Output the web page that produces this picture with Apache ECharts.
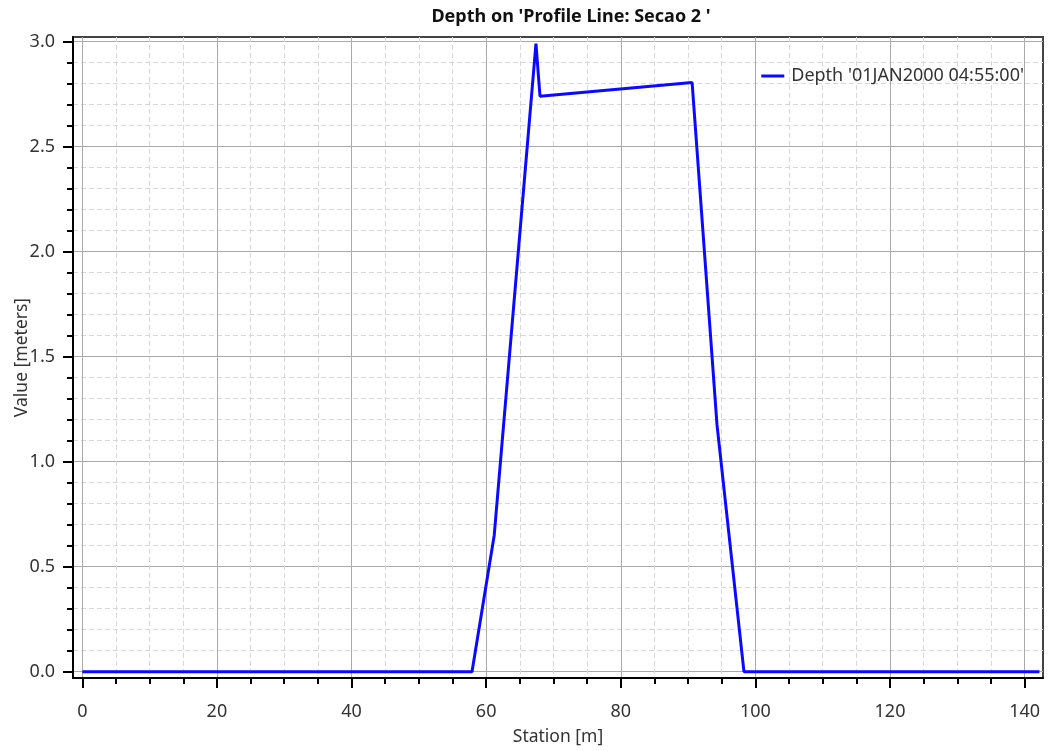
<!DOCTYPE html>
<html>
<head>
<meta charset="utf-8">
<script src="https://cdn.jsdelivr.net/npm/echarts@6/dist/echarts.min.js"></script>
<style>
html,body{margin:0;padding:0;background:#fff;}
#chart{width:1051px;height:751px;}
</style>
</head>
<body>
<div id="chart"></div>
<script>
// ---- data ----
const stations = [0, 57.9, 61.2, 67.4, 68.0, 90.6, 94.3, 98.3, 142.2];
const depths   = [0, 0, 0.65, 2.99, 2.74, 2.805, 1.175, 0, 0];
const seriesName = "Depth '01JAN2000 04:55:00'";
const titleText = "Depth on 'Profile Line: Secao 2 '";
const xMajorTicks = [0, 20, 40, 60, 80, 100, 120, 140];
const yMajorTicks = [0, 0.5, 1.0, 1.5, 2.0, 2.5, 3.0];
const xMinorStep = 5;
const yMinorStep = 0.1;

const xMin = -1.38, xMax = 142.73;
const yMin = -0.03, yMax = 3.022;

function minorList(majors, step, lo, hi) {
  const out = [];
  const n = Math.round((majors[majors.length - 1] - majors[0]) / step);
  for (let i = 0; i <= n; i++) {
    const v = +(majors[0] + i * step).toFixed(6);
    if (majors.some(m => Math.abs(m - v) < 1e-9)) continue;
    if (v > lo && v < hi) out.push(v);
  }
  return out;
}
const xMinorTicks = minorList(xMajorTicks, xMinorStep, xMin, xMax);
const yMinorTicks = minorList(yMajorTicks, yMinorStep, yMin, yMax);

const FONT = "Noto Sans";
const TXT = '#333333';

const chart = echarts.init(document.getElementById('chart'), null, {renderer: 'canvas'});
chart.setOption({
  animation: false,
  backgroundColor: '#ffffff',
  title: {
    text: titleText,
    left: 566, top: 3, textAlign: 'center',
    textStyle: {fontFamily: FONT, fontSize: 18, fontWeight: 'bold', color: '#111'}
  },
  legend: {
    right: 22, top: 62,
    icon: 'rect', itemWidth: 23, itemHeight: 3,
    textStyle: {fontFamily: FONT, fontSize: 18, color: TXT, padding: [0,0,0,2]},
    data: [seriesName]
  },
  grid: {
    left: 73, right: 8, top: 37, bottom: 73,
    show: true, borderColor: '#444', borderWidth: 2, backgroundColor: '#fff',
    containLabel: false,
    outerBoundsMode: 'none'
  },
  xAxis: [
    {
      type: 'value', min: xMin, max: xMax, position: 'bottom',
      name: 'Station [m]', nameLocation: 'middle', nameGap: 50, nameMoveOverlap: false,
      nameTextStyle: {fontFamily: FONT, fontSize: 17.5, color: TXT},
      splitNumber: 7,
      axisLine: {show: true, onZero: false, lineStyle: {color: '#000', width: 2}},
      axisTick: {show: true, length: 10, customValues: xMajorTicks, lineStyle: {color: '#000', width: 2}},
      axisLabel: {show: true, customValues: xMajorTicks, margin: 25, fontFamily: FONT, fontSize: 18, color: TXT},
      splitLine: {show: true, lineStyle: {color: '#aaaaaa', width: 1, type: 'solid'}},
      minorTick: {show: false}, minorSplitLine: {show: false}
    },
    {
      type: 'value', min: xMin, max: xMax, position: 'bottom', offset: 0,
      splitNumber: 29,
      axisLine: {show: false, onZero: false},
      axisTick: {show: true, length: 6, customValues: xMinorTicks, lineStyle: {color: '#000', width: 2}},
      axisLabel: {show: false},
      splitLine: {show: true, lineStyle: {color: '#d8d8d8', width: 1, type: [5, 3]}}
    }
  ],
  yAxis: [
    {
      type: 'value', min: yMin, max: yMax, position: 'left',
      name: 'Value [meters]', nameLocation: 'middle', nameGap: 42, nameRotate: 90, nameMoveOverlap: false,
      nameTextStyle: {fontFamily: FONT, fontSize: 17.5, color: TXT},
      splitNumber: 6,
      axisLine: {show: true, onZero: false, lineStyle: {color: '#000', width: 2}},
      axisTick: {show: true, length: 10, customValues: yMajorTicks, lineStyle: {color: '#000', width: 2}},
      axisLabel: {show: true, customValues: yMajorTicks, margin: 18, fontFamily: FONT, fontSize: 18, color: TXT,
                  formatter: v => Number(v).toFixed(1)},
      splitLine: {show: true, lineStyle: {color: '#aaaaaa', width: 1, type: 'solid'}},
      minorTick: {show: false}, minorSplitLine: {show: false}
    },
    {
      type: 'value', min: yMin, max: yMax, position: 'left', offset: 0,
      splitNumber: 30,
      axisLine: {show: false, onZero: false},
      axisTick: {show: true, length: 6, customValues: yMinorTicks, lineStyle: {color: '#000', width: 2}},
      axisLabel: {show: false},
      splitLine: {show: true, lineStyle: {color: '#d8d8d8', width: 1, type: [5, 3]}}
    }
  ],
  series: [
    {
      name: seriesName,
      type: 'line',
      xAxisIndex: 0, yAxisIndex: 0,
      data: stations.map((s, i) => [s, depths[i]]),
      showSymbol: false, symbol: 'none',
      lineStyle: {color: '#0a0aff', width: 3},
      itemStyle: {color: '#0a0aff'},
      z: 10
    }
  ]
});
</script>
</body>
</html>
